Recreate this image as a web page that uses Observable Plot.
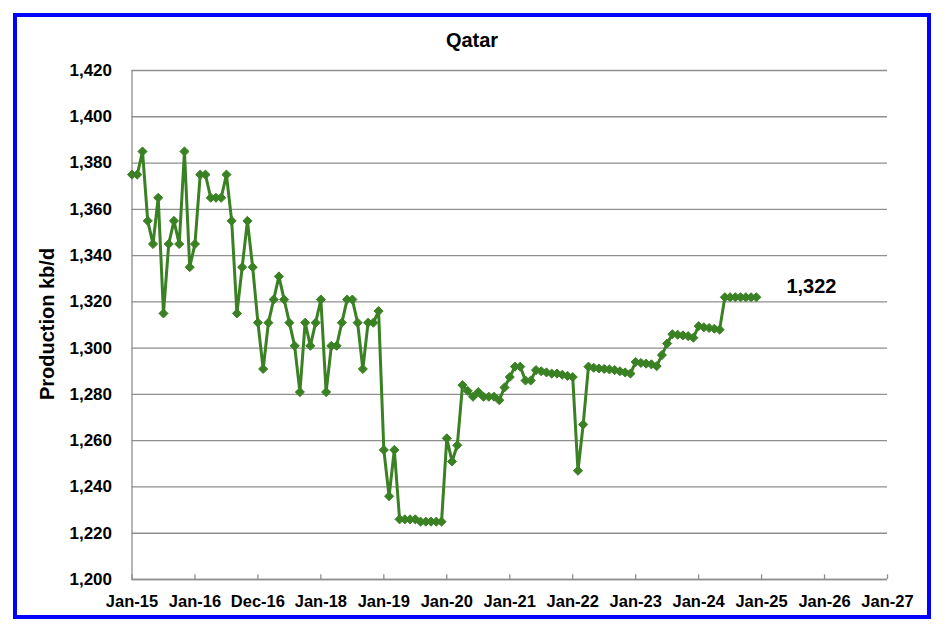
<!DOCTYPE html>
<html><head><meta charset="utf-8">
<script src="https://cdn.jsdelivr.net/npm/d3@7"></script>
<script src="https://cdn.jsdelivr.net/npm/@observablehq/plot@0.6"></script>
<style>
body{margin:0;background:#fff;}
#chart{width:946px;height:634px;}
</style></head><body><div id="chart"></div>
<script>
// Monthly production, kb/d, Jan-15 .. Dec-24
const production = [
  1375,1375,1385,1355,1345,1365,1315,1345,1355,1345,1385,1335,
  1345,1375,1375,1365,1365,1365,1375,1355,1315,1335,1355,1335,
  1311,1291,1311,1321,1331,1321,1311,1301,1281,1311,1301,1311,
  1321,1281,1301,1301,1311,1321,1321,1311,1291,1311,1311,1316,
  1256,1236,1256,1226,1226,1226,1226,1225,1225,1225,1225,1225,
  1261,1251,1258,1284,1281.5,1279,1281,1279,1279,1279,1277.5,1283,
  1287.5,1292,1292,1286,1286,1290.5,1290,1289.5,1289,1289,1288.5,1288,
  1287.5,1247,1267,1292,1291.5,1291.2,1291,1290.8,1290.5,1290,1289.5,1289,
  1294,1293.6,1293.3,1293,1292.2,1297,1302,1306,1305.8,1305.5,1305.2,1304.5,
  1309.5,1309,1308.7,1308.4,1308,1322,1322,1322,1322,1322,1322,1322
];
const xTickLabels = ["Jan-15","Jan-16","Dec-16","Jan-18","Jan-19","Jan-20","Jan-21","Jan-22","Jan-23","Jan-24","Jan-25","Jan-26","Jan-27"];
const yTicks = [1200,1220,1240,1260,1280,1300,1320,1340,1360,1380,1400,1420];
const title = "Qatar";
const yLabel = "Production kb/d";

const data = production.map((v, i) => ({month: i, value: v}));
const xTicks = xTickLabels.map((_, i) => i * 12);
const last = data[data.length - 1];
const green = "#3a8124";
const gray = "#8e8e8e";
const font = "'Liberation Sans', Arial, sans-serif";

const plot = Plot.plot({
  width: 946, height: 634,
  marginLeft: 131.5, marginRight: 59, marginTop: 70, marginBottom: 55,
  style: {fontFamily: font, fontWeight: "bold", fontSize: "16px", color: "#000", background: "#fff", overflow: "visible"},
  x: {domain: [0, 144]},
  y: {domain: [1200, 1420]},
  marks: [
    Plot.gridY(yTicks, {stroke: gray, strokeOpacity: 1, strokeWidth: 1.3}),
    Plot.ruleX([0], {stroke: gray, strokeWidth: 1.3}),
    Plot.ruleY([1200], {stroke: gray, strokeWidth: 1.3}),
    Plot.ruleX(xTicks, {y1: 1200, y2: 1202, stroke: gray, strokeWidth: 1.3}),
    Plot.axisY(yTicks, {tickSize: 0, tickPadding: 20, tickFormat: d3.format(","), fontSize: 17, fontWeight: "bold", label: null}),
    Plot.axisX(xTicks, {tickSize: 0, tickPadding: 16, tickFormat: d => xTickLabels[Math.round(d / 12)], fontSize: 16.5, fontWeight: "bold", label: null}),
    Plot.line(data, {x: "month", y: "value", stroke: green, strokeWidth: 3}),
    Plot.dot(data, {x: "month", y: "value", symbol: "diamond2", r: 4.1, fill: green, stroke: green, strokeWidth: 1}),
    Plot.text([last], {x: d => d.month + 10.5, y: "value", text: d => d3.format(",")(d.value), fontSize: 20, fontWeight: "bold", fill: "#000", dy: -11})
  ]
});

const svg = d3.select(plot);
svg.append("rect").attr("x", 15).attr("y", 15).attr("width", 914).attr("height", 602)
  .attr("fill", "none").attr("stroke", "#0000ff").attr("stroke-width", 4);
svg.append("text").attr("x", 472).attr("y", 46.5).attr("text-anchor", "middle")
  .attr("font-family", font).attr("font-weight", "bold").attr("font-size", 20).attr("fill", "#000").text(title);
svg.append("text").attr("transform", "translate(54,324) rotate(-90)").attr("text-anchor", "middle")
  .attr("font-family", font).attr("font-weight", "bold").attr("font-size", 20).attr("fill", "#000").text(yLabel);

document.getElementById("chart").appendChild(plot);
</script></body></html>
